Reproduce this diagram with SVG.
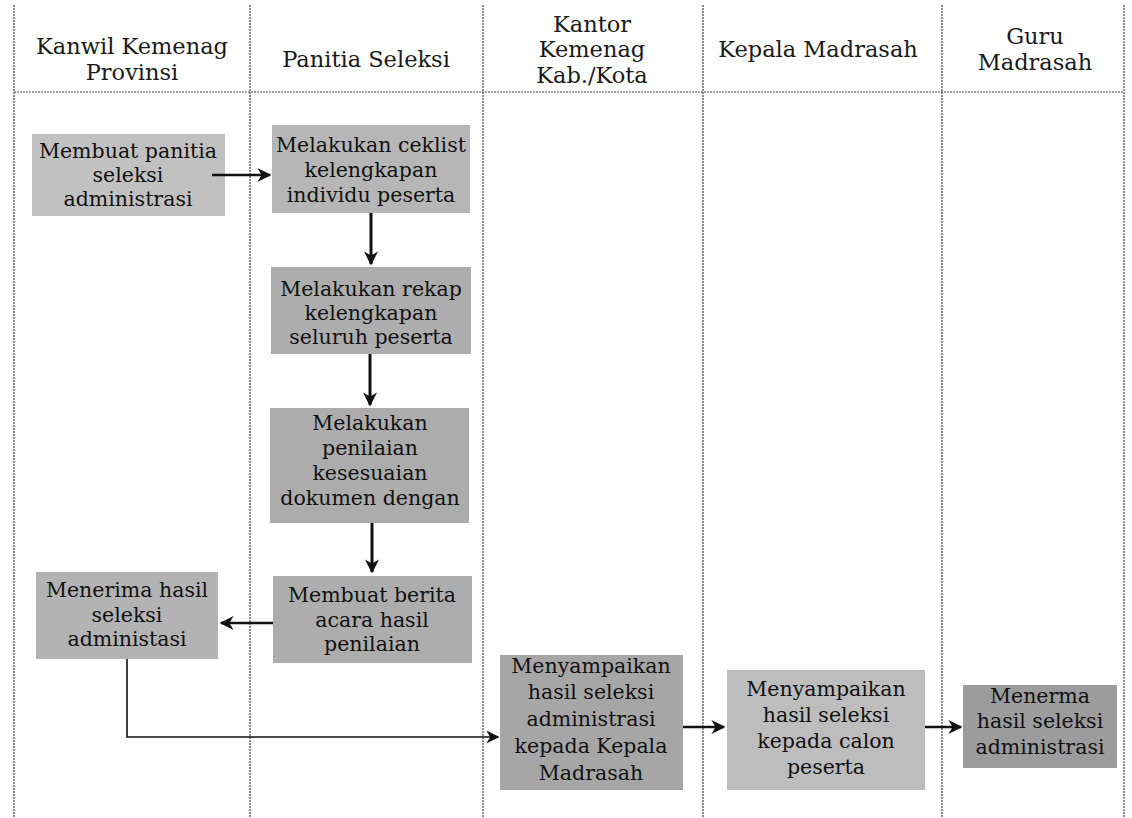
<svg xmlns="http://www.w3.org/2000/svg" width="1132" height="818" viewBox="0 0 1132 818">
<style>
.lane{stroke:#444;stroke-width:1.2;stroke-dasharray:2 1;fill:none}
.hdr{font-family:"DejaVu Serif","Liberation Serif",serif;font-size:22.5px;fill:#1a1a1a;text-anchor:middle}
.bt{font-family:"DejaVu Serif","Liberation Serif",serif;font-size:20.5px;fill:#111;text-anchor:middle}
.c{stroke:#111;fill:none}
</style>
<defs>
<marker id="ah" viewBox="0 0 10 10" refX="9" refY="5" markerWidth="14" markerHeight="14" markerUnits="userSpaceOnUse" orient="auto">
<path d="M0,0 L10,5 L0,10 L3,5 Z" fill="#111"/>
</marker>
<marker id="ahs" viewBox="0 0 10 10" refX="9" refY="5" markerWidth="13" markerHeight="13" markerUnits="userSpaceOnUse" orient="auto">
<path d="M0,0 L10,5 L0,10 L3,5 Z" fill="#111"/>
</marker>
</defs>
<rect width="1132" height="818" fill="#ffffff"/>
<g id="lanes">
<line class="lane" x1="14" y1="5" x2="14" y2="818"/>
<line class="lane" x1="250" y1="5" x2="250" y2="818"/>
<line class="lane" x1="483" y1="5" x2="483" y2="818"/>
<line class="lane" x1="703" y1="5" x2="703" y2="818"/>
<line class="lane" x1="942" y1="5" x2="942" y2="818"/>
<line class="lane" x1="1124" y1="5" x2="1124" y2="818"/>
<line class="lane" x1="14" y1="92" x2="1124" y2="92"/>
<text class="hdr" x="132" y="54">Kanwil Kemenag</text>
<text class="hdr" x="132" y="80">Provinsi</text>
<text class="hdr" x="366" y="67">Panitia Seleksi</text>
<text class="hdr" x="592" y="32">Kantor</text>
<text class="hdr" x="592" y="57">Kemenag</text>
<text class="hdr" x="592" y="83">Kab./Kota</text>
<text class="hdr" x="818" y="57">Kepala Madrasah</text>
<text class="hdr" x="1035" y="44">Guru</text>
<text class="hdr" x="1035" y="70">Madrasah</text>
</g>
<g id="n1">
<rect x="32" y="134" width="193" height="82" fill="#c1c1c1"/>
<text class="bt" x="128" y="158">Membuat panitia</text>
<text class="bt" x="128" y="182">seleksi</text>
<text class="bt" x="128" y="206">administrasi</text>
</g>
<g id="n2">
<rect x="272" y="125" width="198" height="88" fill="#b6b6b6"/>
<text class="bt" x="371" y="152">Melakukan ceklist</text>
<text class="bt" x="371" y="177">kelengkapan</text>
<text class="bt" x="371" y="202">individu peserta</text>
</g>
<g id="n3">
<rect x="271" y="267" width="200" height="87" fill="#adadad"/>
<text class="bt" x="371" y="296">Melakukan rekap</text>
<text class="bt" x="371" y="320">kelengkapan</text>
<text class="bt" x="371" y="344">seluruh peserta</text>
</g>
<g id="n4">
<rect x="270" y="408" width="199" height="115" fill="#acacac"/>
<text class="bt" x="370" y="430">Melakukan</text>
<text class="bt" x="370" y="455">penilaian</text>
<text class="bt" x="370" y="480">kesesuaian</text>
<text class="bt" x="370" y="505">dokumen dengan</text>
</g>
<g id="n5">
<rect x="273" y="576" width="199" height="87" fill="#adadad"/>
<text class="bt" x="372" y="602">Membuat berita</text>
<text class="bt" x="372" y="627">acara hasil</text>
<text class="bt" x="372" y="651">penilaian</text>
</g>
<g id="n6">
<rect x="36" y="572" width="182" height="87" fill="#b3b3b3"/>
<text class="bt" x="127" y="597">Menerima hasil</text>
<text class="bt" x="127" y="622">seleksi</text>
<text class="bt" x="127" y="646">administasi</text>
</g>
<g id="n7">
<rect x="500" y="655" width="183" height="135" fill="#a6a6a6"/>
<text class="bt" x="591" y="673">Menyampaikan</text>
<text class="bt" x="591" y="699">hasil seleksi</text>
<text class="bt" x="591" y="726">administrasi</text>
<text class="bt" x="591" y="753">kepada Kepala</text>
<text class="bt" x="591" y="780">Madrasah</text>
</g>
<g id="n8">
<rect x="727" y="670" width="198" height="120" fill="#bdbdbd"/>
<text class="bt" x="826" y="696">Menyampaikan</text>
<text class="bt" x="826" y="722">hasil seleksi</text>
<text class="bt" x="826" y="748">kepada calon</text>
<text class="bt" x="826" y="774">peserta</text>
</g>
<g id="n9">
<rect x="963" y="685" width="154" height="83" fill="#9c9c9c"/>
<text class="bt" x="1040" y="703">Menerma</text>
<text class="bt" x="1040" y="728">hasil seleksi</text>
<text class="bt" x="1040" y="754">administrasi</text>
</g>
<g id="connectors">
<line class="c" stroke-width="2.5" x1="212" y1="175" x2="270" y2="175" marker-end="url(#ah)"/>
<line class="c" stroke-width="3" x1="371" y1="213" x2="371" y2="264" marker-end="url(#ah)"/>
<line class="c" stroke-width="3" x1="370" y1="354" x2="370" y2="405" marker-end="url(#ah)"/>
<line class="c" stroke-width="3" x1="372" y1="523" x2="372" y2="572" marker-end="url(#ah)"/>
<line class="c" stroke-width="2.5" x1="273" y1="623" x2="221" y2="623" marker-end="url(#ah)"/>
<polyline class="c" stroke-width="1.6" points="127,659 127,737 498,737" marker-end="url(#ahs)"/>
<line class="c" stroke-width="2.5" x1="683" y1="727" x2="724" y2="727" marker-end="url(#ah)"/>
<line class="c" stroke-width="2.5" x1="925" y1="727" x2="961" y2="727" marker-end="url(#ah)"/>
</g>
</svg>
